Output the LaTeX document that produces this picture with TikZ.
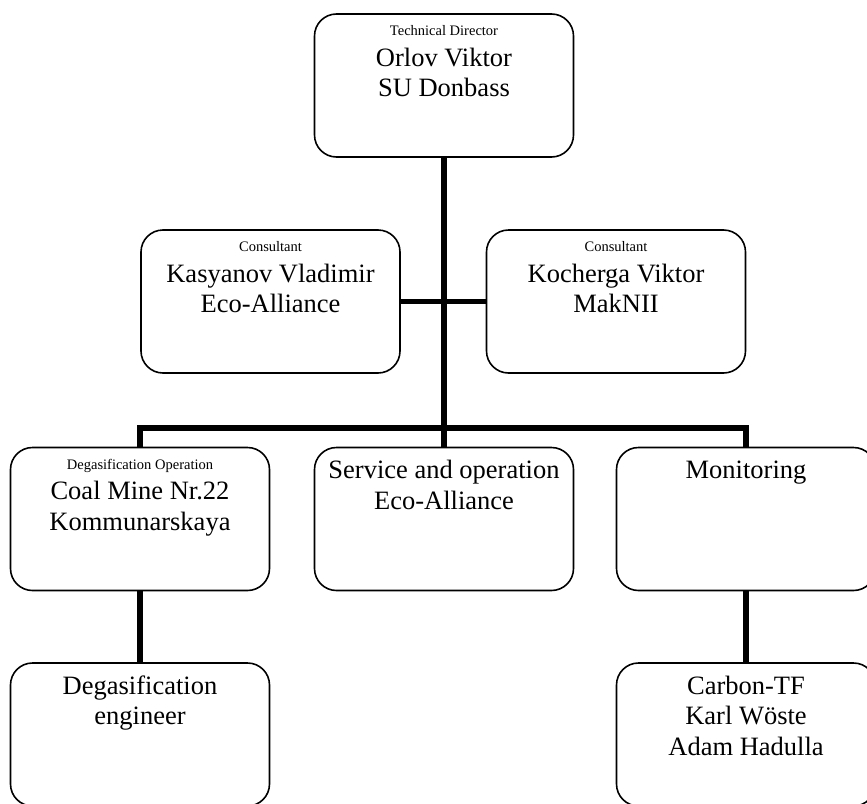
\documentclass[tikz,border=0pt]{standalone}
\usepackage{fontspec}
\setmainfont{Liberation Serif}
\newcommand{\rolefont}{\fontsize{14.5}{17}\selectfont}
\newcommand{\orgtext}[1]{\parbox[c][123pt][t]{250pt}{\centering\strut #1}}
\newcommand{\orgrole}[2]{\parbox[c][123pt][t]{250pt}{\centering{\rolefont\strut #1}\\#2}}

\begin{document}
\begin{tikzpicture}[x=1pt, y=-1pt,
  orgbox/.style={draw, rounded corners=22pt, line width=1.6pt, minimum width=259pt,
    minimum height=143pt, inner sep=0pt, font=\fontsize{26.5}{30.5}\selectfont},
  link/.style={line width=5.5pt}]
  \useasboundingbox (0,0) rectangle (867,803);
  \node[orgbox] (tech) at (444, 85.5) {\orgrole{Technical Director}{Orlov Viktor\\SU Donbass}};
  \node[orgbox] (consL) at (270.5, 301.5) {\orgrole{Consultant}{Kasyanov Vladimir\\Eco-Alliance}};
  \node[orgbox] (consR) at (616, 301.5) {\orgrole{Consultant}{Kocherga Viktor\\MakNII}};
  \node[orgbox] (degop) at (140, 519) {\orgrole{Degasification Operation}{Coal Mine Nr.22\\Kommunarskaya}};
  \node[orgbox] (service) at (444, 519) {\orgtext{Service and operation\\Eco-Alliance}};
  \node[orgbox] (monit) at (746, 519) {\orgtext{Monitoring}};
  \node[orgbox] (engin) at (140, 734.5) {\orgtext{Degasification\\engineer}};
  \node[orgbox] (carbon) at (746, 734.5) {\orgtext{Carbon-TF\\Karl Wöste\\Adam Hadulla}};
  \coordinate (bus) at (444, 428);
  \draw[link] (tech.south) -- (service.north);
  \draw[link] (consL.east) -- (consR.west);
  \draw[link] (degop.north) |- (bus) -| (monit.north);
  \draw[link] (degop.south) -- (engin.north);
  \draw[link] (monit.south) -- (carbon.north);
\end{tikzpicture}
\end{document}
